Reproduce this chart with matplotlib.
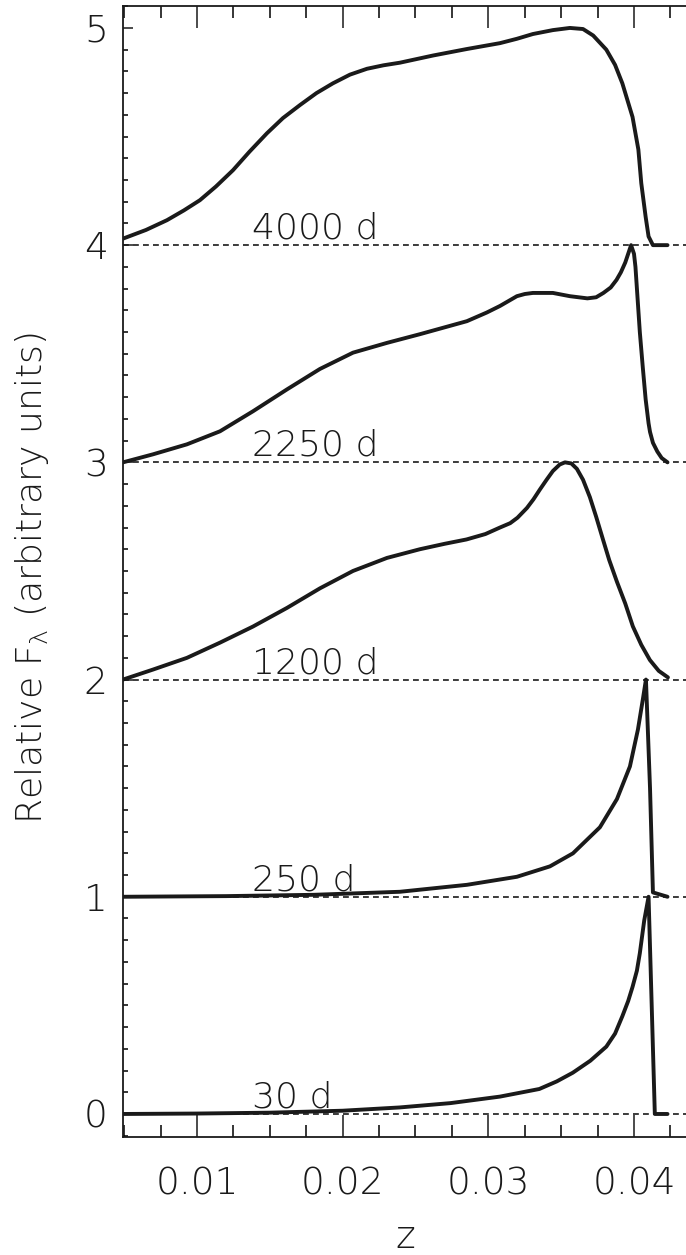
import matplotlib
matplotlib.use("Agg")
import matplotlib.pyplot as plt
from matplotlib.ticker import MultipleLocator

plt.rcParams['font.family'] = ['DejaVu Sans']
plt.rcParams['font.weight'] = 'light'
plt.rcParams['mathtext.default'] = 'regular'

# ---- data (relative flux above each offset) ----
labels = ["30 d", "250 d", "1200 d", "2250 d", "4000 d"]
offsets = [0, 1, 2, 3, 4]

z_30 = [0.00492, 0.010, 0.015, 0.020, 0.0239, 0.0274, 0.0308, 0.0335, 0.0347,
        0.0358, 0.0370, 0.0381, 0.0387, 0.0392, 0.0396, 0.0399, 0.0402, 0.0404,
        0.0407, 0.0410, 0.04143, 0.0423]
f_30 = [0.0, 0.002, 0.006, 0.015, 0.03, 0.05, 0.08, 0.115, 0.15,
        0.19, 0.245, 0.31, 0.37, 0.45, 0.52, 0.585, 0.66, 0.74,
        0.89, 1.0, 0.0, 0.0]

z_250 = [0.00492, 0.012, 0.018, 0.02393, 0.02853, 0.03196, 0.03423, 0.03581,
         0.03766, 0.03883, 0.03972, 0.04027, 0.04061, 0.04082, 0.0411, 0.0413,
         0.0423]
f_250 = [0.0, 0.003, 0.009, 0.023, 0.055, 0.092, 0.14, 0.20,
         0.32, 0.45, 0.60, 0.77, 0.91, 1.0, 0.5, 0.02,
         0.0]

z_1200 = [0.00492, 0.00698, 0.00931, 0.01158, 0.01384, 0.01618, 0.01844, 0.02071,
          0.02304, 0.0253, 0.0270, 0.0285, 0.0298, 0.0308, 0.0315, 0.0320,
          0.03265, 0.0331, 0.03354, 0.0340, 0.03443, 0.0349, 0.03526, 0.0357,
          0.03608, 0.0365, 0.03697, 0.0374, 0.03787, 0.0383, 0.03883, 0.0394,
          0.03992, 0.0405, 0.04109, 0.0417, 0.04233]
f_1200 = [0.0, 0.046, 0.10, 0.17, 0.244, 0.33, 0.42, 0.50,
          0.56, 0.60, 0.625, 0.645, 0.67, 0.70, 0.72, 0.745,
          0.79, 0.83, 0.875, 0.92, 0.96, 0.99, 1.0, 0.995,
          0.97, 0.92, 0.84, 0.75, 0.645, 0.55, 0.45, 0.35,
          0.245, 0.16, 0.09, 0.04, 0.01]

z_2250 = [0.00492, 0.00698, 0.00931, 0.01158, 0.01384, 0.01618, 0.01844, 0.02071,
          0.02304, 0.0253, 0.02853, 0.0299, 0.0308, 0.03196, 0.0325, 0.03306,
          0.03443, 0.0356, 0.0368, 0.0374, 0.0379, 0.0384, 0.0388, 0.0391,
          0.0394, 0.0396, 0.0398, 0.0400, 0.0401, 0.0402, 0.0404, 0.0406,
          0.0408, 0.0410, 0.0411, 0.0413, 0.0416, 0.0419, 0.0423]
f_2250 = [0.0, 0.037, 0.083, 0.143, 0.235, 0.336, 0.43, 0.505,
          0.55, 0.59, 0.65, 0.69, 0.72, 0.765, 0.775, 0.78,
          0.78, 0.765, 0.755, 0.76, 0.78, 0.805, 0.84, 0.875,
          0.92, 0.96, 1.0, 0.96, 0.90, 0.80, 0.60, 0.44,
          0.29, 0.18, 0.14, 0.09, 0.05, 0.02, 0.0]

z_4000 = [0.00492, 0.0065, 0.00794, 0.0091, 0.0102, 0.0113, 0.01247, 0.0136,
          0.0148, 0.0159, 0.01707, 0.0182, 0.01933, 0.0205, 0.02167, 0.0228,
          0.02393, 0.0262, 0.02853, 0.0308, 0.03196, 0.03306, 0.03443, 0.0356,
          0.0365, 0.0372, 0.0381, 0.0387, 0.0392, 0.0399, 0.0403, 0.0405,
          0.0408, 0.0410, 0.0413, 0.0423]
f_4000 = [0.03, 0.07, 0.115, 0.16, 0.207, 0.27, 0.345, 0.43,
          0.515, 0.585, 0.645, 0.70, 0.745, 0.785, 0.812, 0.828,
          0.84, 0.873, 0.903, 0.93, 0.95, 0.972, 0.99, 1.0,
          0.995, 0.965, 0.90, 0.83, 0.745, 0.59, 0.44, 0.285,
          0.13, 0.04, 0.0, 0.0]

zs = [z_30, z_250, z_1200, z_2250, z_4000]
fs = [f_30, f_250, f_1200, f_2250, f_4000]

x_ticks = [0.01, 0.02, 0.03, 0.04]
y_ticks = [0, 1, 2, 3, 4, 5]
label_z = 0.01378

# ---- figure ----
W, H = 686, 1255
ink = '#1a1a1a'
fig = plt.figure(figsize=(W / 100, H / 100), dpi=100)
ax = fig.add_axes([123 / W, 1 - 1137 / H, 1 - 123 / W, (1137 - 6) / H])

xmin, xmax = 0.00492, 0.04357
ax.set_xlim(xmin, xmax)
ax.set_ylim(-0.106, 5.101)

for off in offsets:
    ax.plot([xmin, xmax], [off, off], color=ink, lw=1.2,
            dashes=(3.5, 2.5), zorder=1)

for z, f, off, lab in zip(zs, fs, offsets, labels):
    ax.plot(z, [off + v for v in f], color=ink, lw=2.8,
            solid_joinstyle='round', solid_capstyle='round', zorder=3)
    ax.text(label_z, off + 0.03, lab, fontsize=26, color=ink,
            ha='left', va='baseline', zorder=4)

ax.set_xticks(x_ticks)
ax.set_xticklabels([f"{t:.2f}" for t in x_ticks])
ax.xaxis.set_minor_locator(MultipleLocator(0.0025))
ax.set_yticks(y_ticks)
ax.set_yticklabels([str(t) for t in y_ticks])
ax.yaxis.set_minor_locator(MultipleLocator(0.1))

ax.tick_params(axis='x', which='major', direction='in', length=16, width=1.1,
               top=True, bottom=True, labelsize=27, pad=21, colors=ink)
ax.tick_params(axis='x', which='minor', direction='in', length=8.5, width=1.1,
               top=True, bottom=True)
ax.tick_params(axis='y', which='major', direction='in', length=7.5, width=1.1,
               left=True, right=False, labelsize=27, pad=11, colors=ink)
ax.tick_params(axis='y', which='minor', direction='in', length=3.8, width=1.1,
               left=True, right=False)

ax.spines['right'].set_visible(False)
for s in ['left', 'bottom', 'top']:
    ax.spines[s].set_linewidth(1.3)
    ax.spines[s].set_color(ink)

fig.text(405 / W, 1 - 1237 / H, "z", fontsize=27, ha='center', va='center',
         color=ink)
fig.text(32 / W, 1 - 578 / H, r"Relative F$_\lambda$ (arbitrary units)",
         fontsize=26, rotation=90, ha='center', va='center', color=ink)

fig.savefig("out.png", dpi=100)
